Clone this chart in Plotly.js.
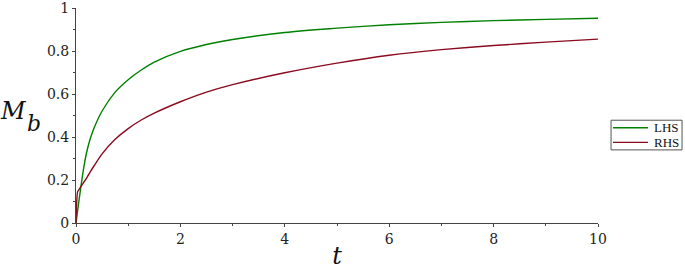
<!DOCTYPE html>
<html>
<head>
<meta charset="utf-8">
<script src="https://cdn.plot.ly/plotly-3.0.1.min.js"></script>
<style>html,body{margin:0;padding:0;background:#fff;}#chart{width:685px;height:270px;}</style>
</head>
<body>
<div id="chart"></div>
<script>
// Values
const t   = [0, 0.03, 0.06, 0.1, 0.15, 0.2, 0.27, 0.35, 0.5, 0.75, 1, 1.25, 1.5, 2, 2.5, 3, 4, 5, 6, 7, 8, 9, 10];
const lhs = [0, 0.055, 0.11, 0.18, 0.26, 0.325, 0.39, 0.445, 0.522, 0.61, 0.668, 0.713, 0.75, 0.80, 0.832, 0.855, 0.888, 0.908, 0.924, 0.935, 0.943, 0.949, 0.954];
const rhs = [0, 0.145, 0.157, 0.172, 0.19, 0.208, 0.237, 0.268, 0.322, 0.39, 0.44, 0.48, 0.512, 0.565, 0.61, 0.645, 0.70, 0.745, 0.782, 0.808, 0.827, 0.843, 0.857];
const seriesNames = ["LHS", "RHS"];
const seriesColors = ["#008000", "#8B0A1E"];
const xTickVals = [0, 2, 4, 6, 8, 10];
const yTickVals = [0, 0.2, 0.4, 0.6, 0.8, 1];
const yTickText = ["0", "0.2", "0.4", "0.6", "0.8", "1"];

const serif = "DejaVu Serif, serif";
const traces = [
  {x: t, y: lhs, name: seriesNames[0], mode: "lines", showlegend: false,
   line: {color: seriesColors[0], width: 1.4, shape: "spline", smoothing: 0.9}},
  {x: t, y: rhs, name: seriesNames[1], mode: "lines", showlegend: false,
   line: {color: seriesColors[1], width: 1.4, shape: "spline", smoothing: 0.6}}
];
const axisCommon = {
  showgrid: false, zeroline: false, showline: true, linecolor: "#444", linewidth: 1,
  ticks: "outside", ticklen: 3, tickwidth: 1, tickcolor: "#444",
  ticklabeloverflow: "allow",
  tickfont: {family: serif, size: 14, color: "#222"},
  minor: {ticks: "outside", ticklen: 2, tickcolor: "#444", tickwidth: 1}
};

// legend box (drawn as shapes + annotations, compact like the reference)
const legX0 = 1.025, legX1 = 1.161, legY0 = 0.340, legY1 = 0.478;
const legRowY = [0.443, 0.375];
const shapes = [{type: "rect", xref: "paper", yref: "paper", x0: legX0, x1: legX1, y0: legY0, y1: legY1,
  line: {color: "#555", width: 1}, fillcolor: "rgba(0,0,0,0)"}];
const annotations = [
  {xref: "paper", yref: "paper", x: -0.119, y: 0.52, xanchor: "center", yanchor: "middle",
   text: "<i>M</i>", showarrow: false, font: {family: serif, size: 24, color: "#111"}},
  {xref: "paper", yref: "paper", x: -0.081, y: 0.465, xanchor: "center", yanchor: "middle",
   text: "<i>b</i>", showarrow: false, font: {family: serif, size: 22, color: "#111"}}
];
seriesNames.forEach((n, i) => {
  shapes.push({type: "line", xref: "paper", yref: "paper", x0: 1.0287, x1: 1.0958,
    y0: legRowY[i], y1: legRowY[i], line: {color: seriesColors[i], width: 1.4}});
  annotations.push({xref: "paper", yref: "paper", x: 1.1035, y: legRowY[i], xanchor: "left", yanchor: "middle",
    text: n, showarrow: false, font: {family: "Liberation Serif, serif", size: 13, color: "#111"}});
});

const layout = {
  width: 685, height: 270,
  margin: {l: 76, r: 87, t: 8, b: 47},
  paper_bgcolor: "#fff", plot_bgcolor: "#fff",
  showlegend: false,
  xaxis: Object.assign({}, axisCommon, {
    range: [0, 10], tickvals: xTickVals, ticktext: xTickVals.map(String),
    minor: Object.assign({}, axisCommon.minor, {dtick: 1, tick0: 0}),
    title: {text: "<i>t</i>", font: {family: serif, size: 24, color: "#111"}, standoff: 12}
  }),
  yaxis: Object.assign({}, axisCommon, {
    range: [0, 1.002], tickvals: yTickVals, ticktext: yTickText,
    minor: Object.assign({}, axisCommon.minor, {dtick: 0.1, tick0: 0})
  }),
  shapes: shapes,
  annotations: annotations
};
Plotly.newPlot("chart", traces, layout, {staticPlot: true, displayModeBar: false});
</script>
</body>
</html>
